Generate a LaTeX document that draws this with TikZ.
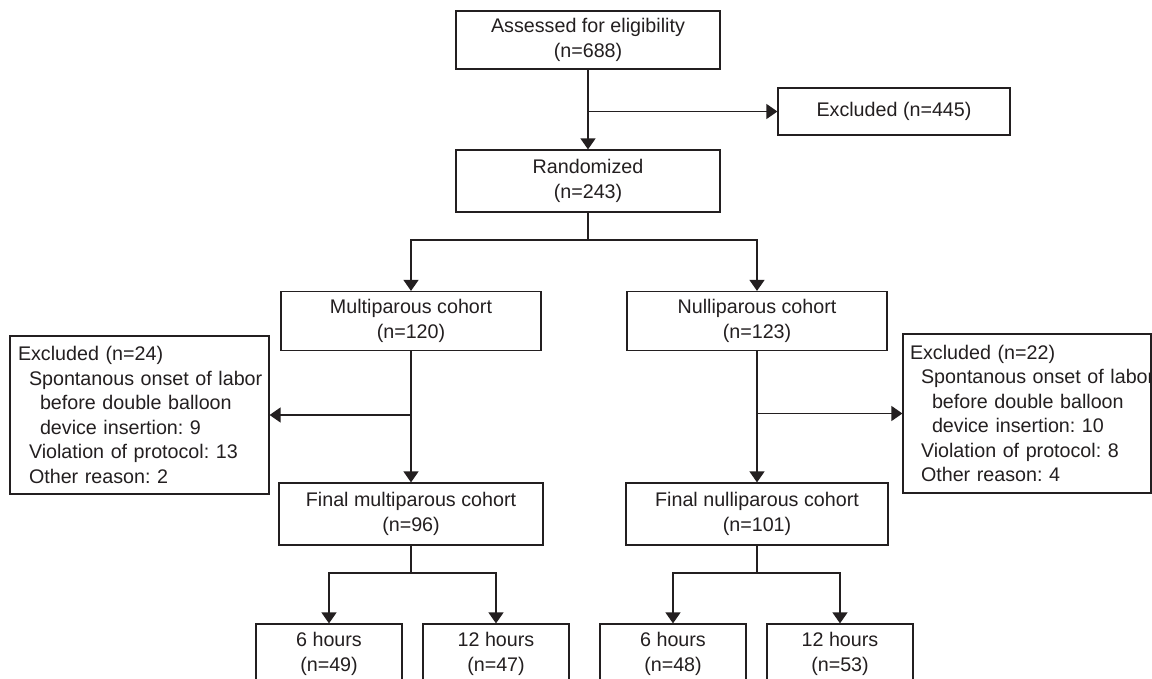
\documentclass[tikz,border=0pt]{standalone}
\usepackage{fontspec}
\setmainfont{Liberation Sans}
\usetikzlibrary{arrows.meta}
\definecolor{ink}{RGB}{35,31,32}
\frenchspacing
\newcommand{\lineI}[1]{\mbox{\hspace{11pt}#1}}
\newcommand{\lineII}[1]{\mbox{\hspace{22pt}#1}}
\begin{document}
\begin{tikzpicture}[x=1pt,y=-1pt,
  box/.style={draw=ink, line width=1.2pt, text=ink, align=center, inner sep=0pt,
    font=\fontsize{19.7pt}{24.5pt}\selectfont\frenchspacing},
  exbox/.style={box, align=left},
  link/.style={draw=ink, line width=1.3pt},
  arr/.style={link, -{Triangle[width=15pt,length=11pt]}}]
\clip (0,0) rectangle (1152,679);
\fill[white] (0,0) rectangle (1152,679);
% top
\node[box, minimum width=264pt, minimum height=58pt] (assess) at (588,40) {Assessed for eligibility\\(n=688)};
\node[box, minimum width=232pt, minimum height=47pt] (excl1) at (894,111.5) {Excluded (n=445)};
\node[box, minimum width=264pt, minimum height=62pt] (rand) at (588,181) {Randomized\\(n=243)};
% cohorts
\node[box, minimum width=260pt, minimum height=59pt] (multi) at (411,321) {Multiparous cohort\\(n=120)};
\node[box, minimum width=260pt, minimum height=59pt] (nulli) at (757,321) {Nulliparous cohort\\(n=123)};
% exclusions
\node[exbox, inner xsep=8pt, text width=243pt, minimum width=259pt, minimum height=158pt] (exclL) at (139.5,415)
  {\mbox{Excluded (n=24)}\\\lineI{Spontanous onset of labor}\\\lineII{before double balloon}\\\lineII{device insertion: 9}\\\lineI{Violation of protocol: 13}\\\lineI{Other reason: 2}};
\node[exbox, inner xsep=7pt, text width=234pt, minimum width=248pt, minimum height=159pt] (exclR) at (1027,413.5)
  {\mbox{Excluded (n=22)}\\\lineI{Spontanous onset of labor}\\\lineII{before double balloon}\\\lineII{device insertion: 10}\\\lineI{Violation of protocol: 8}\\\lineI{Other reason: 4}};
% final cohorts
\node[box, minimum width=264pt, minimum height=62pt] (fmulti) at (411,514) {Final multiparous cohort\\(n=96)};
\node[box, minimum width=262pt, minimum height=62pt] (fnulli) at (757,514) {Final nulliparous cohort\\(n=101)};
% hours
\node[box, minimum width=146pt, minimum height=60pt] (hAL) at (329,654) {6 hours\\(n=49)};
\node[box, minimum width=146pt, minimum height=60pt] (hBL) at (496,654) {12 hours\\(n=47)};
\node[box, minimum width=146pt, minimum height=60pt] (hAR) at (673,654) {6 hours\\(n=48)};
\node[box, minimum width=146pt, minimum height=60pt] (hBR) at (840,654) {12 hours\\(n=53)};
% connectors
\draw[arr] (assess.south) -- (rand.north);
\draw[arr] (assess.south |- excl1.west) -- (excl1.west);
\coordinate (b1) at (588,240);
\draw[link] (rand.south) -- (b1);
\draw[arr] (b1) -| (multi.north);
\draw[arr] (b1) -| (nulli.north);
\draw[arr] (multi.south) -- (fmulti.north);
\draw[arr] (nulli.south) -- (fnulli.north);
\draw[arr] (multi.south |- exclL.east) -- (exclL.east);
\draw[arr] (nulli.south |- exclR.west) -- (exclR.west);
\coordinate (b2) at (411,573);
\coordinate (b3) at (757,573);
\draw[link] (fmulti.south) -- (b2);
\draw[arr] (b2) -| (hAL.north);
\draw[arr] (b2) -| (hBL.north);
\draw[link] (fnulli.south) -- (b3);
\draw[arr] (b3) -| (hAR.north);
\draw[arr] (b3) -| (hBR.north);
\end{tikzpicture}
\end{document}
